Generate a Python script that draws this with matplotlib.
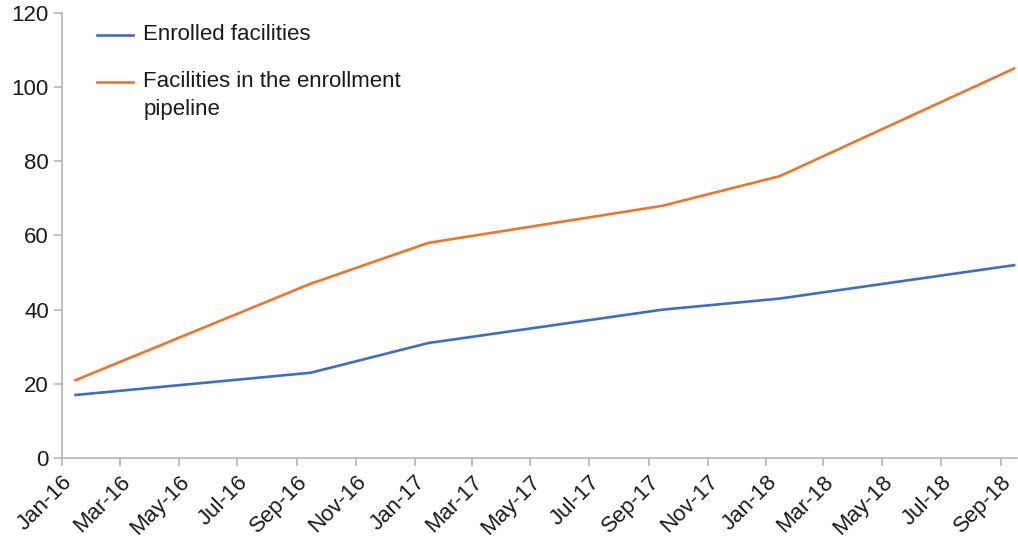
import matplotlib.pyplot as plt
import matplotlib.dates as mdates
import pandas as pd

dates = pd.to_datetime(['2016-01-15', '2016-09-15', '2017-01-15',
                        '2017-09-15', '2018-01-15', '2018-09-15'])
enrolled = [17, 23, 31, 40, 43, 52]
pipeline = [21, 47, 58, 68, 76, 105]
labels = ['Enrolled facilities', 'Facilities in the enrollment\npipeline']
colors = ['#3d6cc9', '#f07427']

plt.rcParams['font.family'] = ['Liberation Sans', 'DejaVu Sans']
fig = plt.figure(figsize=(10.18, 5.37), dpi=100)
ax = fig.add_axes([0.061, 0.147, 0.938, 0.829])

ax.plot(dates, enrolled, color=colors[0], linewidth=1.9)
ax.plot(dates, pipeline, color=colors[1], linewidth=1.9)

ax.set_ylim(0, 120)
ax.set_yticks(range(0, 121, 20))
ax.set_xlim(pd.Timestamp('2016-01-01'), pd.Timestamp('2018-09-18'))
ax.xaxis.set_major_locator(mdates.MonthLocator(bymonth=[1, 3, 5, 7, 9, 11]))
ax.xaxis.set_major_formatter(mdates.DateFormatter('%b-%y'))
for lbl in ax.get_xticklabels():
    lbl.set_rotation(45)
    lbl.set_ha('right')
    lbl.set_rotation_mode('anchor')

for s in ['top', 'right']:
    ax.spines[s].set_visible(False)
for s in ['left', 'bottom']:
    ax.spines[s].set_color('#b5b5b5')
    ax.spines[s].set_linewidth(1.2)
ax.tick_params(colors='#b5b5b5', labelcolor='#1a1a1a', labelsize=16, length=6, width=1.2)

# legend drawn by hand so the handle sits on the first text line
entry_y = [0.951, 0.845]
line_step = 0.063
for lab, col, y in zip(labels, colors, entry_y):
    ax.plot([0.0367, 0.0743], [y, y], color=col, linewidth=1.9,
            transform=ax.transAxes, clip_on=False)
    for i, part in enumerate(lab.split('\n')):
        ax.text(0.0848, y - i * line_step, part, transform=ax.transAxes,
                fontsize=16, va='center', ha='left', color='#1a1a1a')

plt.savefig('out.png')
